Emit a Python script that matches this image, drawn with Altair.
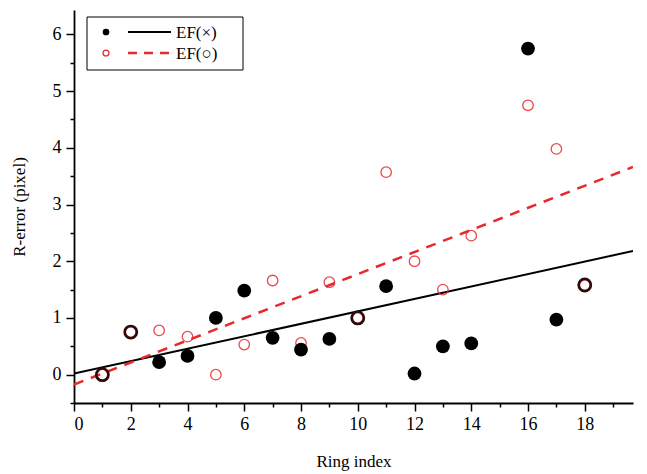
import altair as alt
import pandas as pd

# ---- data ----
ring_index = [1, 2, 3, 4, 5, 6, 7, 8, 9, 10, 11, 12, 13, 14, 16, 17, 18]
ef_cross = [0.0, 0.75, 0.22, 0.33, 1.0, 1.48, 0.65, 0.44, 0.63, 1.0, 1.56, 0.02, 0.5, 0.55, 5.75, 0.97, 1.58]
ef_circle = [0.0, 0.75, 0.78, 0.67, 0.0, 0.53, 1.66, 0.56, 1.63, 1.0, 3.57, 2.0, 1.5, 2.45, 4.75, 3.98, 1.58]
legend_labels = ["EF(×)", "EF(○)"]

x_ticks = list(range(0, 20))
y_ticks = [v / 2 for v in range(-1, 13)]

df = pd.DataFrame({"ring": ring_index, "ef_x": ef_cross, "ef_o": ef_circle})
df["overlap"] = df["ef_x"] == df["ef_o"]

RED = "#e8282d"
FONT = "Liberation Serif"

xscale = alt.Scale(domain=[0, 19.7], nice=False, zero=False)
yscale = alt.Scale(domain=[-0.5, 6.43], nice=False, zero=False)

xaxis = alt.Axis(
    title="Ring index", values=x_ticks, grid=False, format="d",
    labelExpr="datum.value % 2 == 0 ? datum.label : ''",
    tickSize={"condition": {"test": "datum.value % 2 == 0", "value": 8}, "value": 4},
    titlePadding=20, labelPadding=4,
)
yaxis = alt.Axis(
    title="R-error (pixel)", values=y_ticks, grid=False, format=".0f",
    labelExpr="datum.value % 1 == 0 ? datum.label : ''",
    tickSize={"condition": {"test": "datum.value % 1 == 0", "value": 8}, "value": 4},
    titlePadding=24, labelPadding=5,
)

base = alt.Chart(df)
X = alt.X("ring:Q", scale=xscale, axis=xaxis)


def Y(field):
    return alt.Y(f"{field}:Q", scale=yscale, axis=yaxis)


line_x = base.transform_regression("ring", "ef_x", extent=[0, 19.7]).mark_line(
    color="black", strokeWidth=2, clip=True
).encode(x=X, y=Y("ef_x"))

line_o = base.transform_regression("ring", "ef_o", extent=[0, 19.7]).mark_line(
    color=RED, strokeWidth=2.5, strokeDash=[10, 8], clip=True
).encode(x=X, y=Y("ef_o"))

pts_x = base.transform_filter("!datum.overlap").mark_point(
    shape="circle", filled=True, color="black", size=190, opacity=1
).encode(x=X, y=Y("ef_x"))

pts_ring = base.transform_filter("datum.overlap").mark_point(
    shape="circle", filled=False, color="#2a0c0c", size=150, strokeWidth=2.6, opacity=1
).encode(x=X, y=Y("ef_x"))

pts_o = base.mark_point(
    shape="circle", filled=False, color=RED, size=110, strokeWidth=1.3, opacity=0.85
).encode(x=X, y=Y("ef_o"))

# ---- legend (manual) ----
one = alt.Data(values=[{}])
leg_box = alt.Chart(one).mark_rect(fill="white", stroke="black", strokeWidth=1).encode(
    x=alt.value(13), x2=alt.value(169), y=alt.value(7), y2=alt.value(60)
)
leg_dot = alt.Chart(one).mark_point(shape="circle", filled=True, color="black", size=45, opacity=1).encode(
    x=alt.value(32), y=alt.value(22)
)
leg_ring = alt.Chart(one).mark_point(shape="circle", filled=False, color=RED, size=35, strokeWidth=1.3, opacity=1).encode(
    x=alt.value(32), y=alt.value(43)
)
leg_line1 = alt.Chart(one).mark_rule(color="black", strokeWidth=2).encode(
    x=alt.value(54), x2=alt.value(97), y=alt.value(22)
)
leg_line2 = alt.Chart(one).mark_rule(color=RED, strokeWidth=2.5, strokeDash=[9, 7]).encode(
    x=alt.value(54), x2=alt.value(97), y=alt.value(43)
)
leg_t1 = alt.Chart(alt.Data(values=[{"t": legend_labels[0]}])).mark_text(
    align="left", baseline="middle", font=FONT, fontSize=17, color="black"
).encode(x=alt.value(102), y=alt.value(23), text="t:N")
leg_t2 = alt.Chart(alt.Data(values=[{"t": legend_labels[1]}])).mark_text(
    align="left", baseline="middle", font=FONT, fontSize=17, color="black"
).encode(x=alt.value(102), y=alt.value(44), text="t:N")

chart = alt.layer(
    line_x, line_o, pts_o, pts_ring, pts_x,
    leg_box, leg_dot, leg_ring, leg_line1, leg_line2, leg_t1, leg_t2,
).properties(
    width=559, height=393,
    background="white",
    autosize=alt.AutoSizeParams(type="none"),
    padding={"left": 74, "top": 10, "right": 14, "bottom": 71},
).configure_view(stroke=None).configure_axis(
    labelFont=FONT, titleFont=FONT, labelFontSize=18, titleFontSize=17,
    titleFontWeight="normal", labelColor="black", titleColor="black",
    domainColor="black", domainWidth=1.8, tickColor="black", tickWidth=1.5,
)

chart.save("out.html", embed_options={"renderer": "svg", "actions": False})
